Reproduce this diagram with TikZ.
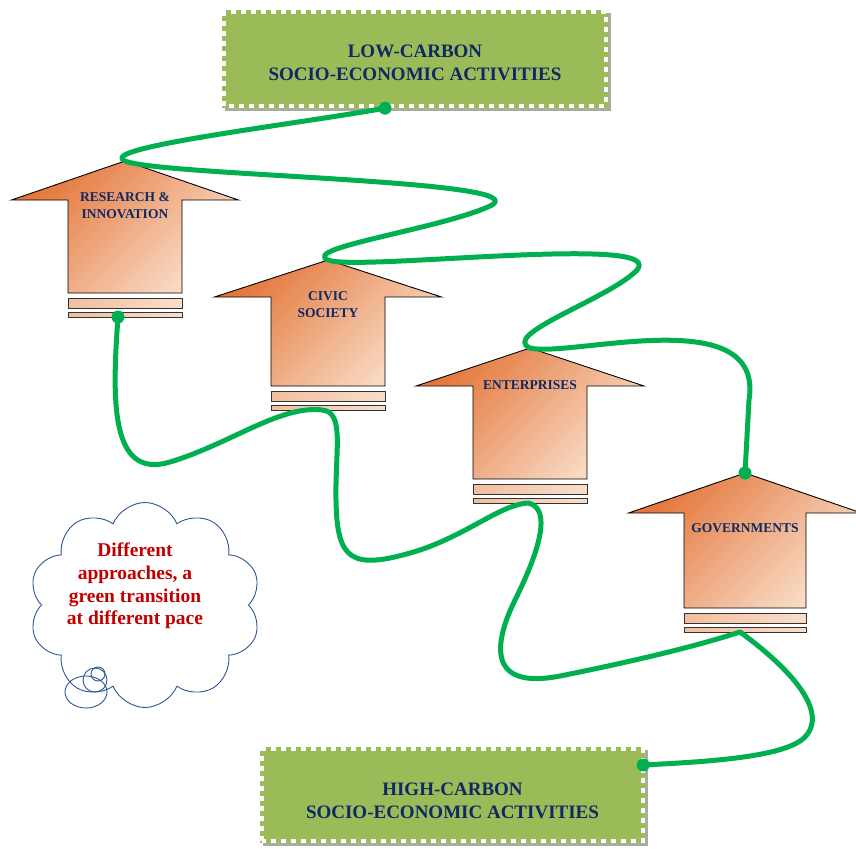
\documentclass[tikz,border=0pt]{standalone}
\usepackage{fontspec}
\setmainfont{Liberation Serif}
\usetikzlibrary{shapes.symbols,shadows}
\definecolor{boxgreen}{RGB}{155,187,89}
\definecolor{boxshadow}{RGB}{168,172,152}
\definecolor{navytext}{RGB}{16,40,100}
\definecolor{linegreen}{RGB}{0,176,80}
\definecolor{arrowdark}{RGB}{228,118,58}
\definecolor{arrowlight}{RGB}{249,224,204}
\definecolor{barleft}{RGB}{241,190,158}
\definecolor{barright}{RGB}{249,222,202}
\definecolor{cloudblue}{RGB}{47,85,151}
\definecolor{cloudred}{RGB}{192,0,0}
\tikzset{
  carbonbox/.style={rectangle, fill=boxgreen, inner sep=0pt,
    drop shadow={shadow xshift=3pt, shadow yshift=-3pt, fill=boxshadow, opacity=1}},
  boxdash/.style={draw=white, line width=4pt, dash pattern=on 5pt off 5pt},
  boxtext/.style={font=\fontsize{19}{23}\selectfont\bfseries, text=navytext, align=center, inner sep=0pt},
  arrowbody/.style={draw=black, line width=0.9pt, top color=arrowdark, bottom color=arrowlight, shading angle=45},
  barbody/.style={draw=black!80, line width=0.9pt, left color=barleft, right color=barright},
  arrowtext/.style={font=\fontsize{13.5}{17}\selectfont\bfseries, text=navytext, align=center, inner sep=0pt},
  cloudtext/.style={font=\fontsize{19.5}{22.7}\selectfont\bfseries, text=cloudred, align=center, inner sep=0pt},
  greenline/.style={draw=linegreen, line width=5pt, line cap=round, line join=round},
  greendot/.style={fill=linegreen},
  cloudline/.style={draw=cloudblue, line width=0.9pt}
}
% #1 name, #2 cx, #3 tip y, #4 wing y, #5 half wing, #6 half shaft, #7 shaft bottom, #8 text y, #9 text
\newcommand{\carbonarrow}[9]{%
  \path[arrowbody] (#2,#3) -- ({#2+#5},#4) -- ({#2+#6},#4) -- ({#2+#6},#7) -- ({#2-#6},#7) -- ({#2-#6},#4) -- ({#2-#5},#4) -- cycle;
  \path[barbody] ({#2-#6},{#7+5}) rectangle ({#2+#6},{#7+15});
  \path[barbody] ({#2-#6},{#7+19}) rectangle ({#2+#6},{#7+24});
  \coordinate (#1tip) at (#2,#3);
  \coordinate (#1base) at (#2,{#7+24});
  \node[arrowtext] (#1label) at (#2,#8) {#9};
}
\begin{document}
\begin{tikzpicture}[x=1pt,y=-1pt]
\useasboundingbox (0,0) rectangle (856,848);

% boxes
\node[carbonbox, minimum width=386pt, minimum height=98pt] (lowbox) at (415,59) {};
\draw[boxdash] ([shift={(2.5pt,2.5pt)}]lowbox.south west) rectangle ([shift={(-2.5pt,-2.5pt)}]lowbox.north east);
\node[boxtext] (lowlabel) at ([yshift=-4pt]lowbox.center) {LOW-CARBON\\SOCIO-ECONOMIC ACTIVITIES};

\node[carbonbox, minimum width=385pt, minimum height=96pt] (highbox) at (452.5,795) {};
\draw[boxdash] ([shift={(2.5pt,2.5pt)}]highbox.south west) rectangle ([shift={(-2.5pt,-2.5pt)}]highbox.north east);
\node[boxtext] (highlabel) at ([yshift=-6pt]highbox.center) {HIGH-CARBON\\SOCIO-ECONOMIC ACTIVITIES};

% arrows
\carbonarrow{R}{125}{161}{200}{113.5}{57}{293}{206}{RESEARCH \&\\INNOVATION}
\carbonarrow{C}{328}{260}{297}{113.5}{57}{386}{305}{CIVIC\\SOCIETY}
\carbonarrow{E}{530}{348}{386}{114}{57}{479}{385}{ENTERPRISES}
\carbonarrow{G}{745}{473}{513}{116.5}{61}{608}{528}{GOVERNMENTS}

% connection points
\coordinate (topdot) at ([xshift=-30pt]lowbox.south);
\coordinate (botdot) at ([xshift=-2pt,yshift=30pt]highbox.east);
\coordinate (Rdot) at ([xshift=-7pt]Rbase);
\coordinate (Cb) at ([xshift=-6pt]Cbase);
\coordinate (Eb) at ([xshift=-2pt]Ebase);
\coordinate (Gb) at ([xshift=-5pt]Gbase);

% upper green path
\draw[greenline] (topdot) .. controls (290,125) and (95,148) .. (Rtip)
  .. controls (160,176) and (545,180) .. (490,206)
  .. controls (440,229) and (300,248) .. (Ctip)
  .. controls (356,272) and (680,232) .. (635,272)
  .. controls (605,300) and (500,335) .. (Etip)
  .. controls (570,358) and (765,300) .. (749,400)
  -- (Gtip);

% lower green path
\draw[greenline] (Rdot) .. controls (112,400) and (110,480) .. (170,462)
  .. controls (230,444) and (280,405) .. (Cb)
  .. controls (345,412) and (335,450) .. (336,500)
  .. controls (337,560) and (350,572) .. (420,550)
  .. controls (470,533) and (500,505) .. (Eb)
  .. controls (552,508) and (540,550) .. (515,600)
  .. controls (493,645) and (488,690) .. (560,676)
  .. controls (640,660) and (700,645) .. (Gb)
  .. controls (765,650) and (835,705) .. (805,737)
  .. controls (785,758) and (700,762) .. (botdot);

\fill[greendot] (topdot) circle (6.5);
\fill[greendot] (Rdot) circle (6.5);
\fill[greendot] (Gtip) circle (6.5);
\fill[greendot] (botdot) circle (6.5);

% cloud
\node[cloud, cloud puffs=10, cloud puff arc=135, aspect=1.15, cloudline, minimum width=232pt, minimum height=205pt] (cloud) at (145,605) {};
\node[cloudtext] (cloudlabel) at (135,586) {Different\\approaches, a\\green transition\\at different pace};
\draw[cloudline] (86,692) ellipse [x radius=21, y radius=16];
\draw[cloudline] (95,680) circle (12);
\draw[cloudline] (98,674) circle (7);
\end{tikzpicture}
\end{document}
